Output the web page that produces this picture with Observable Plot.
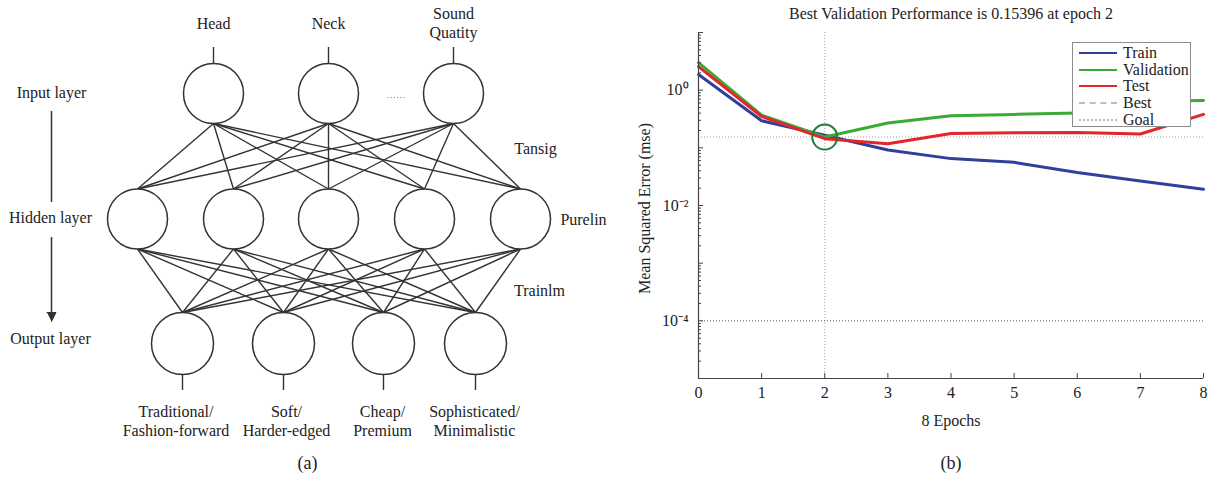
<!DOCTYPE html>
<html><head><meta charset="utf-8">
<script src="https://cdn.jsdelivr.net/npm/d3@7"></script>
<script src="https://cdn.jsdelivr.net/npm/@observablehq/plot@0.6"></script>
<style>
body{margin:0;background:#fff;}
#wrap{position:relative;width:1210px;height:477px;overflow:hidden;font-family:"Liberation Serif",serif;color:#222;}
#left{position:absolute;left:0;top:0;}
#right{position:absolute;left:600px;top:0;}
#legend{position:absolute;left:1072px;top:42px;width:117px;height:83px;border:1.5px solid #8c8c8c;background:#fff;font-size:16px;}
.lg-row{position:absolute;left:0;height:16px;line-height:16px;}
.lg-line{position:absolute;left:6px;width:38px;top:7px;height:0;}
.lg-text{position:absolute;left:50px;top:0;white-space:nowrap;}
</style></head>
<body><div id="wrap"><div id="left"></div><div id="right"></div><div id="legend"></div></div>
<script>
// ---------- (a) network diagram data ----------
const inputLabels = ["Head", "Neck", "Sound\nQuatity"];
const inputX = [213, 328, 453];
const hiddenX = [137, 233, 328, 424, 520];
const outputLabels = ["Traditional/\nFashion-forward", "Soft/\nHarder-edged", "Cheap/\nPremium", "Sophisticated/\nMinimalistic"];
const outputX = [182, 283, 383, 475];
const outputLabelX = [175.5, 286, 382, 474];
const layerY = [93, 218.5, 343];          // input, hidden, output centres
const nodeR = [30, 30, 31];
const layerLabels = ["Input layer", "Hidden layer", "Output layer"];
const layerLabelX = [51, 50, 50];
const layerLabelY = [92, 217, 338];
const functionLabels = ["Tansig", "Purelin", "Trainlm"];
const functionX = [535, 583, 539];
const functionY = [148, 219, 290];

// ---------- (b) performance data ----------
const epochs = [0, 1, 2, 3, 4, 5, 6, 7, 8];
const trainMSE = [1.87, 0.294, 0.165, 0.092, 0.065, 0.056, 0.0375, 0.0266, 0.0191];
const validationMSE = [3.0, 0.37, 0.154, 0.27, 0.36, 0.38, 0.40, 0.64, 0.66];
const testMSE = [2.56, 0.35, 0.144, 0.118, 0.177, 0.182, 0.184, 0.174, 0.38];
const bestEpoch = 2;
const bestPerf = 0.15396;
const goalMSE = 1e-4;
const xTicks = [0, 1, 2, 3, 4, 5, 6, 7, 8];
const yLabelTicks = [1, 1e-2, 1e-4];
const yTickLabels = ["10\u2070", "10\u207B\u00B2", "10\u207B\u2074"];
const legendLabels = ["Train", "Validation", "Test", "Best", "Goal"];

const FONT = '"Liberation Serif", serif';
const INK = "#333";

// ----- build diagram tables
const inputNodes = inputLabels.map((t, i) => ({label: t, x: inputX[i], y: layerY[0], r: nodeR[0]}));
const hiddenNodes = hiddenX.map(x => ({x, y: layerY[1], r: nodeR[1]}));
const outputNodes = outputLabels.map((t, i) => ({label: t, x: outputX[i], lx: outputLabelX[i], y: layerY[2], r: nodeR[2]}));
const linksIH = inputNodes.flatMap(a => hiddenNodes.map(b => ({x1: a.x, y1: a.y + a.r, x2: b.x, y2: b.y - b.r})));
const linksHO = hiddenNodes.flatMap(a => outputNodes.map(b => ({x1: a.x, y1: a.y + a.r, x2: b.x, y2: b.y - b.r})));
const stubsIn = inputNodes.map(n => ({x: n.x, y1: n.y - n.r - 16, y2: n.y - n.r}));
const stubsOut = outputNodes.map(n => ({x: n.x, y1: n.y + n.r, y2: n.y + n.r + 16}));
const sideLabels = layerLabels.map((t, i) => ({label: t, x: layerLabelX[i], y: layerLabelY[i]}));
const fnLabels = functionLabels.map((t, i) => ({label: t, x: functionX[i], y: functionY[i]}));
const axisX = layerLabelX[0];
const connector = [{x: axisX, y1: layerLabelY[0] + 19, y2: layerLabelY[1] - 15}];
const arrowLine = [{x: axisX, y1: layerLabelY[1] + 20, y2: layerLabelY[2] - 24}];
const tipY = layerLabelY[2] - 17;
const arrowHead = [{x: axisX - 4.5, y: tipY - 9}, {x: axisX + 4.5, y: tipY - 9}, {x: axisX, y: tipY}];
const dotsMid = (inputX[1] + inputX[2]) / 2 + 6;
const dotsBetween = [{x1: dotsMid - 9.5, x2: dotsMid + 9.5, y: layerY[0] + 4}];

const left = Plot.plot({
  width: 600, height: 477, margin: 0,
  x: {type: "linear", domain: [0, 600], range: [0, 600], axis: null},
  y: {type: "linear", domain: [0, 477], range: [0, 477], axis: null},
  r: {type: "identity"},
  style: {fontFamily: FONT, fontSize: "16px", color: "#222", background: "transparent", overflow: "visible"},
  marks: [
    Plot.link(linksIH, {x1: "x1", y1: "y1", x2: "x2", y2: "y2", stroke: INK, strokeWidth: 1.4}),
    Plot.link(linksHO, {x1: "x1", y1: "y1", x2: "x2", y2: "y2", stroke: INK, strokeWidth: 1.4}),
    Plot.ruleX(stubsIn, {x: "x", y1: "y1", y2: "y2", stroke: INK, strokeWidth: 1.4}),
    Plot.ruleX(stubsOut, {x: "x", y1: "y1", y2: "y2", stroke: INK, strokeWidth: 1.4}),
    Plot.dot([...inputNodes, ...hiddenNodes, ...outputNodes], {x: "x", y: "y", r: "r", fill: "white", stroke: INK, strokeWidth: 1.5}),
    Plot.text(inputNodes, {x: "x", y: n => n.y - n.r - 41, text: "label", lineHeight: 1.2, fill: "#222"}),
    Plot.text(outputNodes, {x: "lx", y: n => n.y + n.r + 46, text: "label", lineHeight: 1.2, fill: "#222"}),
    Plot.text(sideLabels, {x: "x", y: "y", text: "label", fill: "#222"}),
    Plot.text(fnLabels, {x: "x", y: "y", text: "label", fill: "#222"}),
    Plot.ruleX(connector, {x: "x", y1: "y1", y2: "y2", stroke: INK, strokeWidth: 1.5}),
    Plot.ruleX(arrowLine, {x: "x", y1: "y1", y2: "y2", stroke: INK, strokeWidth: 1.5}),
    Plot.line(arrowHead, {x: "x", y: "y", fill: INK, stroke: INK, strokeWidth: 1}),
    Plot.link(dotsBetween, {x1: "x1", x2: "x2", y1: "y", y2: "y", stroke: "#777", strokeWidth: 1, strokeDasharray: "1,2.2"}),
    Plot.text(["(a)"], {x: () => 307, y: () => 463, text: d => d, fontSize: 18, fill: "#222"})
  ]
});
document.getElementById("left").appendChild(left);

// ----- performance chart
const BLUE = "#2f3f9e", GREEN = "#3aaa35", RED = "#e3262a", CIRCLE = "#1f7d33", AX = "#444";
const series = (vals, name) => epochs.map((e, i) => ({epoch: e, mse: vals[i], name}));
const train = series(trainMSE, "Train");
const validation = series(validationMSE, "Validation");
const test = series(testMSE, "Test");
const yMajor = [1e1, 1, 1e-1, 1e-2, 1e-3, 1e-4, 1e-5];
const yMinor = yMajor.slice(1).flatMap(p => [2, 3, 4, 5, 6, 7, 8, 9].map(m => m * p));
const labelMap = new Map(yLabelTicks.map((v, i) => [v, yTickLabels[i]]));
const W = 610, ML = 98, MR = 7, MT = 32, MB = 99, H = 477;
const FW = W - ML - MR, FH = H - MT - MB;

const right = Plot.plot({
  width: W, height: H,
  marginLeft: ML, marginRight: MR, marginTop: MT, marginBottom: MB,
  x: {type: "linear", domain: [0, 8], axis: null, label: null},
  y: {type: "log", domain: [1e-5, 10], axis: null, label: null},
  style: {fontFamily: FONT, fontSize: "16px", color: "#222", background: "transparent", overflow: "visible"},
  marks: [
    Plot.ruleX([bestEpoch], {stroke: "#a5a5a5", strokeWidth: 1, strokeDasharray: "1,2"}),
    Plot.ruleY([bestPerf], {stroke: "#a5a5a5", strokeWidth: 1, strokeDasharray: "1,2"}),
    Plot.ruleY([goalMSE], {stroke: "#555", strokeWidth: 1, strokeDasharray: "1,2"}),
    Plot.line(train, {x: "epoch", y: "mse", stroke: BLUE, strokeWidth: 3}),
    Plot.line(validation, {x: "epoch", y: "mse", stroke: GREEN, strokeWidth: 3}),
    Plot.line(test, {x: "epoch", y: "mse", stroke: RED, strokeWidth: 3}),
    Plot.dot([{epoch: bestEpoch, mse: bestPerf}], {x: "epoch", y: "mse", r: 12.5, stroke: CIRCLE, strokeWidth: 2, fill: "none"}),
    Plot.ruleX([0], {stroke: AX, strokeWidth: 1.2}),
    Plot.ruleY([1e-5], {stroke: AX, strokeWidth: 1.2}),
    Plot.tickX(xTicks, {x: d => d, insetTop: FH - 5, stroke: AX}),
    Plot.tickY(yMajor, {y: d => d, insetRight: FW - 5, stroke: AX}),
    Plot.tickY(yMinor, {y: d => d, insetRight: FW - 3, stroke: AX}),
    Plot.axisX({ticks: xTicks, tickSize: 0, tickPadding: 8, tickFormat: d => String(d), fontSize: 16, fill: "#222", label: null}),
    Plot.axisY({ticks: yLabelTicks, tickSize: 0, tickPadding: 10, tickFormat: d => labelMap.get(d), fontSize: 16, fill: "#222", label: null}),
    Plot.text(["Best Validation Performance is 0.15396 at epoch 2"], {frameAnchor: "top", lineAnchor: "middle", textAnchor: "middle", dy: -19, text: d => d, fill: "#222"}),
    Plot.text(["8 Epochs"], {frameAnchor: "bottom", lineAnchor: "middle", textAnchor: "middle", dy: 42, text: d => d, fill: "#222"}),
    Plot.text(["Mean Squared Error (mse)"], {frameAnchor: "left", lineAnchor: "middle", textAnchor: "middle", dx: -54, dy: 3, rotate: -90, text: d => d, fill: "#222"}),
    Plot.text(["(b)"], {frameAnchor: "bottom", lineAnchor: "middle", textAnchor: "middle", dy: 85, text: d => d, fontSize: 18, fill: "#222"})
  ]
});
document.getElementById("right").appendChild(right);

// ----- legend (HTML, over the chart)
const legendStyles = [
  `2.5px solid ${BLUE}`, `2.5px solid ${GREEN}`, `2.5px solid ${RED}`,
  `2px dashed #b9c2b9`, `2px dotted #bbb`
];
const legend = d3.select("#legend");
legendLabels.forEach((t, i) => {
  const row = legend.append("div").attr("class", "lg-row").style("top", (2 + i * 16.7) + "px").style("width", "117px");
  row.append("div").attr("class", "lg-line").style("border-top", legendStyles[i]);
  row.append("div").attr("class", "lg-text").text(t);
});
</script>
</body></html>
